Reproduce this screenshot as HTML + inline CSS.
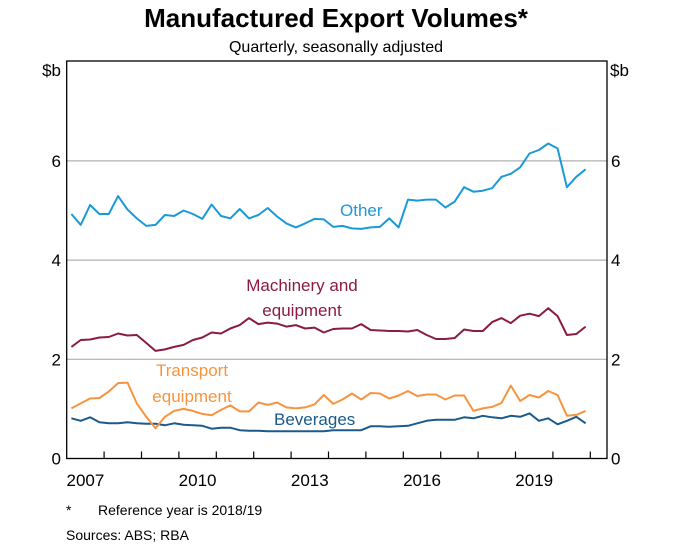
<!DOCTYPE html>
<html><head><meta charset="utf-8"><style>
body{margin:0;background:#fff;}
svg{display:block;font-family:"Liberation Sans",Arial,sans-serif;}
</style></head><body>
<svg id="chart" width="673" height="549">
<text x="336" y="27" text-anchor="middle" font-size="26" font-weight="bold">Manufactured Export Volumes*</text>
<text x="336" y="52" text-anchor="middle" font-size="16">Quarterly, seasonally adjusted</text>
<text x="61" y="76" text-anchor="end" font-size="17">$b</text>
<text x="610" y="76" font-size="17">$b</text>
<g id="grid"></g>
<g id="series"></g>
<rect x="66.7" y="61" width="540.3" height="397.5" fill="none" stroke="#000" stroke-width="1.3"/>
<g id="axes"></g>
<text x="340" y="216" font-size="17" fill="#1a9ad6">Other</text>
<text x="302" y="291" text-anchor="middle" font-size="17" fill="#8b1a45">Machinery and</text>
<text x="302" y="316" text-anchor="middle" font-size="17" fill="#8b1a45">equipment</text>
<text x="192" y="376" text-anchor="middle" font-size="17" fill="#f7943e">Transport</text>
<text x="192" y="402" text-anchor="middle" font-size="17" fill="#f7943e">equipment</text>
<text x="274" y="425" font-size="17" fill="#1b5a8a">Beverages</text>
<text x="66" y="515" font-size="14">*</text>
<text x="98" y="515" font-size="14">Reference year is 2018/19</text>
<text x="66" y="540" font-size="14">Sources: ABS; RBA</text>
</svg>
<script>
const yTicks=[0,2,4,6];
const yearLabels=[2007,2010,2013,2016,2019];
const other=[4.93,4.71,5.11,4.93,4.93,5.29,5.02,4.84,4.69,4.71,4.91,4.89,5.0,4.93,4.83,5.12,4.89,4.84,5.03,4.84,4.91,5.05,4.88,4.74,4.66,4.74,4.83,4.82,4.67,4.69,4.64,4.63,4.66,4.67,4.84,4.66,5.22,5.2,5.22,5.22,5.06,5.18,5.47,5.38,5.40,5.45,5.68,5.74,5.87,6.15,6.22,6.35,6.25,5.47,5.68,5.83];
const machinery=[2.25,2.39,2.40,2.44,2.45,2.52,2.48,2.49,2.33,2.17,2.2,2.25,2.29,2.39,2.44,2.54,2.52,2.62,2.69,2.83,2.71,2.74,2.72,2.66,2.69,2.62,2.64,2.54,2.61,2.62,2.62,2.71,2.59,2.58,2.57,2.57,2.56,2.59,2.49,2.41,2.41,2.43,2.6,2.57,2.57,2.75,2.83,2.73,2.88,2.92,2.87,3.03,2.87,2.49,2.51,2.66];
const transport=[1.01,1.11,1.21,1.22,1.35,1.52,1.53,1.11,0.84,0.61,0.84,0.96,1.0,0.96,0.9,0.87,0.98,1.07,0.95,0.95,1.13,1.08,1.13,1.03,1.01,1.03,1.09,1.28,1.10,1.19,1.31,1.19,1.32,1.31,1.21,1.27,1.36,1.26,1.29,1.29,1.19,1.27,1.27,0.96,1.01,1.04,1.12,1.47,1.16,1.28,1.23,1.36,1.28,0.86,0.88,0.96];
const beverages=[0.81,0.76,0.83,0.73,0.71,0.71,0.73,0.71,0.7,0.7,0.67,0.71,0.68,0.67,0.66,0.6,0.62,0.62,0.57,0.56,0.56,0.55,0.55,0.55,0.55,0.55,0.55,0.55,0.57,0.57,0.57,0.57,0.65,0.65,0.64,0.65,0.66,0.71,0.76,0.78,0.78,0.78,0.83,0.81,0.86,0.83,0.81,0.86,0.84,0.91,0.76,0.81,0.69,0.76,0.84,0.71];
const startYear=2007;
const NS="http://www.w3.org/2000/svg";
const X0=66.7,PXY=37.4,Y0=458.5,PXU=49.6;
function xScale(t){return X0+(t-startYear)*PXY;}
function yScale(v){return Y0-v*PXU;}
function mk(tag,attrs,parent){const e=document.createElementNS(NS,tag);for(const k in attrs)e.setAttribute(k,attrs[k]);parent.appendChild(e);return e;}
const grid=document.getElementById('grid'),axes=document.getElementById('axes'),ser=document.getElementById('series');
yTicks.forEach(v=>{
  const y=yScale(v);
  if(v>0){const g=mk('line',{x1:X0,x2:607,y1:y,y2:y,stroke:'#b0b0b0','stroke-width':1.2},grid);
  
  }
  const l=mk('text',{x:61,y:y+6,'text-anchor':'end','font-size':17},axes);l.textContent=v;
  
  
  const r=mk('text',{x:611,y:y+6,'font-size':17},axes);r.textContent=v;
  
  
});
for(let yr=startYear+1;yr<=2021;yr++){
  const x=xScale(yr);
  const t=mk('line',{x1:x,x2:x,y1:Y0,y2:Y0-7,stroke:'#000','stroke-width':1.2},axes);
  
  
}
yearLabels.forEach(yr=>{
  const l=mk('text',{x:xScale(yr+0.5),y:486,'text-anchor':'middle','font-size':17},axes);l.textContent=yr;
  
  
});
function line(data,color,name){
  const pts=data.map((v,i)=>xScale(startYear+(i+0.5)/4).toFixed(1)+','+yScale(v).toFixed(1)).join(' ');
  const p=mk('polyline',{points:pts,fill:'none',stroke:color,'stroke-width':2,'stroke-linejoin':'round'},ser);
  
  
}
line(beverages,'#1b5a8a','beverages-line');
line(transport,'#f7943e','transport-line');
line(machinery,'#8b1a45','machinery-line');
line(other,'#1a9ad6','other-line');
</script>
</body></html>
